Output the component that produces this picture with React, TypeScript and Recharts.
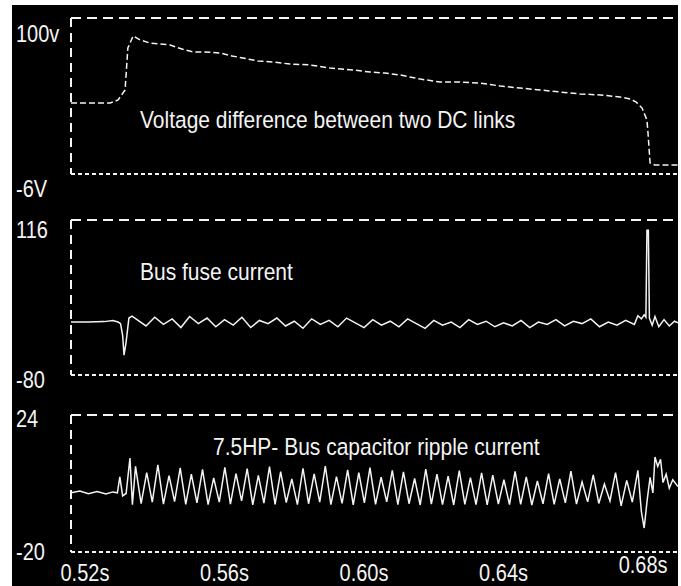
import { LineChart, Line, XAxis, YAxis, ReferenceLine } from "recharts";

// time axis (seconds)
const timeTicks = [0.52, 0.56, 0.6, 0.64, 0.68];
const timeLabels = ["0.52s", "0.56s", "0.60s", "0.64s", "0.68s"];

// panel 1: voltage difference between the two DC links
const voltTime = [
  0.516, 0.5272, 0.5295, 0.5315, 0.5323, 0.5338, 0.5358, 0.5386, 0.5415, 0.5444,
  0.5478, 0.551, 0.5544, 0.5587, 0.5622, 0.5653, 0.5696, 0.5739, 0.5788, 0.5845,
  0.5903, 0.5968, 0.6017, 0.606, 0.6103, 0.6161, 0.6218, 0.6275, 0.6333, 0.639,
  0.6447, 0.6505, 0.6562, 0.6619, 0.6677, 0.6734, 0.6763, 0.678, 0.6797, 0.6811,
  0.6814, 0.682, 0.6834, 0.69,
];
const voltDiff = [
  42.2, 42.2, 44.3, 51.1, 79.6, 87.8, 85.1, 83.0, 82.3, 81.7,
  78.9, 76.9, 76.9, 76.2, 74.2, 72.8, 70.8, 70.1, 68.7, 68.1,
  66.0, 64.7, 63.3, 62.6, 61.3, 58.5, 56.5, 56.5, 55.8, 53.8,
  52.4, 51.1, 49.7, 48.4, 47.7, 46.3, 45.0, 42.9, 38.8, 30.7,
  21.9, 1.5, 0.1, 0.1,
];
const voltTicks = [-6, 100];
const voltLabels = ["-6V", "100v"];

// panel 2: bus fuse current
const fuseTime = [
  0.516, 0.521, 0.5255, 0.528, 0.5295, 0.5302, 0.5308, 0.5312, 0.5318, 0.5326, 0.5335,
  0.5375, 0.54, 0.5425, 0.545, 0.5475, 0.55, 0.5525, 0.555, 0.5575, 0.56,
  0.5625, 0.565, 0.5675, 0.57, 0.5725, 0.575, 0.5775, 0.58, 0.5825, 0.585,
  0.5875, 0.59, 0.5925, 0.595, 0.5975, 0.6, 0.6025, 0.605, 0.6075, 0.61,
  0.6125, 0.615, 0.6175, 0.62, 0.6225, 0.625, 0.6275, 0.63, 0.6325, 0.635,
  0.6375, 0.64, 0.6425, 0.645, 0.6475, 0.65, 0.6525, 0.655, 0.6575, 0.66,
  0.6625, 0.665, 0.6675, 0.67, 0.6725, 0.675, 0.6775,
  0.6785, 0.6795, 0.6803, 0.6808, 0.6811, 0.6815, 0.6818, 0.6826, 0.6834, 0.6845,
  0.686, 0.6875, 0.689, 0.69,
];
const fuseAmps = [
  -13, -13, -12.5, -11, -13, -15, -30, -55, -38, -8, -5.5,
  -18, -7, -16, -9, -20, -6, -15, -8, -19, -10,
  -17, -7, -20, -11, -15, -8, -18, -12, -21, -9,
  -16, -11, -19, -8, -14, -20, -10, -17, -12, -19,
  -9, -15, -21, -11, -17, -13, -20, -10, -16, -12,
  -19, -14, -18, -11, -20, -13, -16, -10, -18, -12,
  -15, -9, -19, -13, -17, -11, -16,
  -5, -9, -4, -7, 103, 103, -8, -17, -6, -19,
  -10, -18, -12, -14,
];
const fuseTicks = [-80, 116];
const fuseLabels = ["-80", "116"];

// panel 3: bus capacitor ripple current
const rippleTime = [
  0.516, 0.5185, 0.521, 0.5235, 0.526, 0.528, 0.5293, 0.53, 0.5308, 0.5318, 0.5329, 0.5336,
  0.5345, 0.5361, 0.5377, 0.5393, 0.5409, 0.5425, 0.5441, 0.5457, 0.5473, 0.5489,
  0.5505, 0.5521, 0.5537, 0.5553, 0.5569, 0.5585, 0.5601, 0.5617, 0.5633, 0.5649,
  0.5665, 0.5681, 0.5697, 0.5713, 0.5729, 0.5745, 0.5761, 0.5777, 0.5793, 0.5809,
  0.5825, 0.5841, 0.5857, 0.5873, 0.5889, 0.5905, 0.5921, 0.5937, 0.5953, 0.5969,
  0.5985, 0.6001, 0.6017, 0.6033, 0.6049, 0.6065, 0.6081, 0.6097, 0.6113, 0.6129,
  0.6145, 0.6161, 0.6177, 0.6193, 0.6209, 0.6225, 0.6241, 0.6257, 0.6273, 0.6289,
  0.6305, 0.6321, 0.6337, 0.6353, 0.6369, 0.6385, 0.6401, 0.6417, 0.6433, 0.6449,
  0.6465, 0.6481, 0.6497, 0.6513, 0.6529, 0.6545, 0.6561, 0.6577, 0.6593, 0.6609,
  0.6625, 0.6641, 0.6657, 0.6673, 0.6689, 0.6705, 0.6721, 0.6737, 0.6753, 0.6769,
  0.6785,
  0.6795, 0.6803, 0.6812, 0.682, 0.6828, 0.6834, 0.6842, 0.685, 0.6857, 0.6866,
  0.6875, 0.6885, 0.69,
];
const rippleAmps = [
  -1.0, -0.4, -1.3, -0.6, -1.4, -0.7, -1.0, 4.1, -2.0, -1.2, 10.2, -4.8,
  7.5, -4.5, 5.5, -4.0, 8.0, -4.6, 4.5, -3.8, 7.0, -4.7,
  5.0, -4.2, 6.5, -4.8, 3.8, -4.0, 7.2, -4.6, 5.2, -3.6,
  6.8, -4.9, 4.6, -4.3, 7.4, -4.7, 5.8, -4.1, 3.5, -4.8,
  6.9, -4.5, 5.1, -4.0, 7.6, -4.8, 4.2, -4.4, 6.4, -4.9,
  5.5, -4.2, 7.1, -4.7, 4.0, -3.9, 6.2, -4.8, 5.7, -4.5,
  3.6, -4.9, 6.6, -4.6, 5.0, -4.8, 4.4, -4.9, 6.1, -4.7,
  3.9, -4.8, 5.4, -4.9, 4.7, -4.6, 3.2, -4.8, 5.9, -4.7,
  4.1, -4.9, 2.8, -4.5, 5.2, -4.7, 3.5, -4.2, 6.0, -4.6,
  2.5, -3.9, 4.8, -4.4, 1.8, -3.6, 5.5, -5.2, 3.0, -4.0,
  6.2,
  -7.0, -12.3, -3.0, 4.0, -1.0, 10.5, 7.5, 9.8, 2.3, 5.0,
  0.5, 3.2, 1.0,
];
const rippleTicks = [-20, 24];
const rippleLabels = ["-20", "24"];

const titles = [
  "Voltage difference between two DC links",
  "Bus fuse current",
  "7.5HP- Bus capacitor ripple current",
];

const FONT = "'Liberation Sans', Arial, sans-serif";
const WHITE = "#f4f4f4";
const TIME_DOMAIN = [0.516, 0.69];

function rows(t: number[], v: number[]) {
  return t.map((time, i) => ({ t: time, v: v[i] }));
}

function Panel(props: {
  top: number;
  height: number;
  plotTop: number;
  axisHeight: number;
  data: { t: number; v: number }[];
  ticks: number[];
  labels: string[];
  labelOffsets: number[];
  dash?: string;
  showTime?: boolean;
}) {
  const { top, height, plotTop, axisHeight, data, ticks, labels, labelOffsets, dash, showTime } = props;
  const lo = ticks[0];
  const hi = ticks[1];

  const valueTick = (p: any) => (
    <text
      transform={`translate(16 ${p.y + labelOffsets[p.index]}) scale(1 1.17)`}
      fill={WHITE}
      fontSize={20}
      fontFamily={FONT}
      textAnchor="start"
    >
      {labels[p.index]}
    </text>
  );

  const timeTick = (p: any) => {
    const i = timeTicks.indexOf(p.payload.value);
    const lift = i === timeTicks.length - 1 ? 8 : 0;
    return (
      <text
        transform={`translate(${p.x} ${p.y + 27 - lift}) scale(1 1.15)`}
        fill={WHITE}
        fontSize={20}
        fontFamily={FONT}
        textAnchor="middle"
      >
        {timeLabels[i]}
      </text>
    );
  };

  return (
    <div style={{ position: "absolute", left: 0, top, width: 678, height }}>
      <LineChart
        width={678}
        height={height}
        data={data}
        margin={{ top: plotTop, right: 0, bottom: 0, left: 0 }}
      >
        <XAxis
          dataKey="t"
          type="number"
          domain={TIME_DOMAIN}
          allowDataOverflow
          ticks={timeTicks}
          interval={0}
          height={axisHeight}
          tickSize={0}
          tickLine={false}
          axisLine={{ stroke: WHITE, strokeWidth: 2, strokeDasharray: "4 3" }}
          tick={showTime ? timeTick : false}
        />
        <YAxis
          type="number"
          domain={[lo, hi]}
          allowDataOverflow
          ticks={ticks}
          interval={0}
          width={71}
          tickSize={0}
          tickLine={false}
          axisLine={{ stroke: WHITE, strokeWidth: 2, strokeDasharray: "9 6" }}
          tick={valueTick}
        />
        <ReferenceLine y={hi} stroke={WHITE} strokeWidth={2} strokeDasharray="10 6" />
        <Line
          type="linear"
          dataKey="v"
          stroke={WHITE}
          strokeWidth={1.5}
          strokeDasharray={dash}
          dot={false}
          isAnimationActive={false}
        />
      </LineChart>
    </div>
  );
}

export default function App() {
  return (
    <div
      style={{
        position: "absolute",
        left: 0,
        top: 0,
        width: 681,
        height: 586,
        background: "#fff",
        overflow: "hidden",
      }}
    >
      <div
        style={{
          position: "absolute",
          left: 12,
          top: 5,
          width: 666,
          height: 581,
          background: "#000",
        }}
      />
      <Panel
        top={0}
        height={212}
        plotTop={18}
        axisHeight={38}
        data={rows(voltTime, voltDiff)}
        ticks={voltTicks}
        labels={voltLabels}
        labelOffsets={[23, 24]}
        dash="6 3"
      />
      <Panel
        top={200}
        height={200}
        plotTop={20}
        axisHeight={25}
        data={rows(fuseTime, fuseAmps)}
        ticks={fuseTicks}
        labels={fuseLabels}
        labelOffsets={[13, 18]}
      />
      <Panel
        top={395}
        height={191}
        plotTop={20}
        axisHeight={34}
        data={rows(rippleTime, rippleAmps)}
        ticks={rippleTicks}
        labels={rippleLabels}
        labelOffsets={[8, 12]}
        showTime
      />
      <svg
        width={681}
        height={586}
        style={{ position: "absolute", left: 0, top: 0, pointerEvents: "none" }}
      >
        <text transform="translate(140 128) scale(1 1.17)" fill={WHITE} fontSize={21} fontFamily={FONT}>
          {titles[0]}
        </text>
        <text transform="translate(140 280) scale(1 1.17)" fill={WHITE} fontSize={21} fontFamily={FONT}>
          {titles[1]}
        </text>
        <text transform="translate(213 455) scale(1 1.17)" fill={WHITE} fontSize={21} fontFamily={FONT}>
          {titles[2]}
        </text>
      </svg>
    </div>
  );
}
